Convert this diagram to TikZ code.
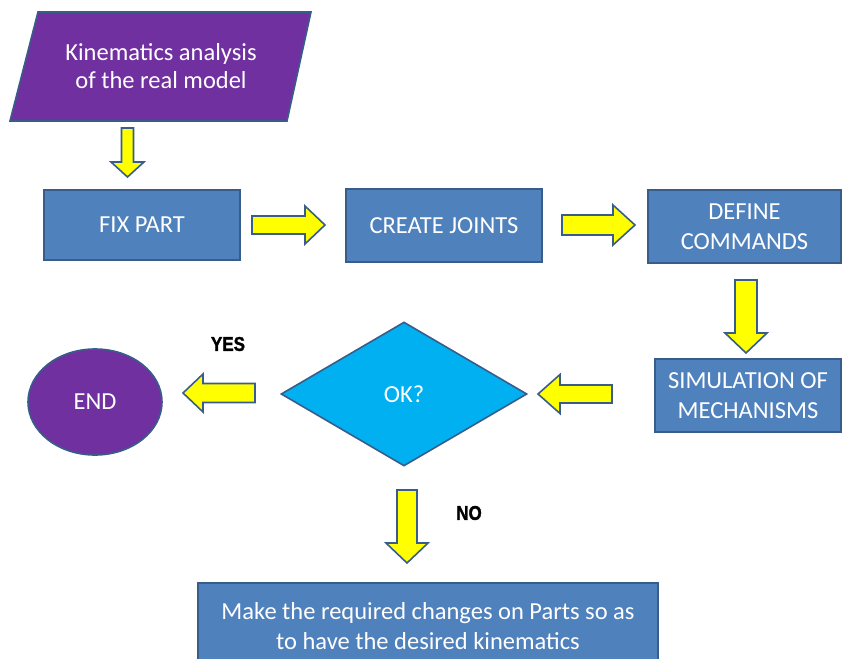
\documentclass[tikz,border=0pt]{standalone}
\usepackage{fontspec}
\setmainfont{Carlito}
\newfontfamily\labelfont{Liberation Sans}[BoldFeatures={FakeBold=1.5}]
\usetikzlibrary{shapes.geometric,calc}

\definecolor{boxblue}{HTML}{4F81BD}
\definecolor{edgeblue}{HTML}{385D8A}
\definecolor{startpurple}{HTML}{7030A0}
\definecolor{decisioncyan}{HTML}{00B0F0}
\definecolor{arrowyellow}{HTML}{FFFF00}

% Block arrow: x, y of the tail centre, direction, length, shaft half width, head half width, head length
\newcommand{\blockarrow}[7]{%
  \begin{scope}[shift={(#1,#2)},rotate=#3]
    \draw[yarrow] (0,-#5) -- ({#4-#7},-#5) -- ({#4-#7},-#6) -- (#4,0)
      -- ({#4-#7},#6) -- ({#4-#7},#5) -- (0,#5) -- cycle;
  \end{scope}}

\tikzset{
  yarrow/.style={fill=arrowyellow, draw=edgeblue, line width=1.6pt, line join=miter},
  stepbox/.style={rectangle, fill=boxblue, draw=edgeblue, line width=1.6pt,
    text=white, align=center, inner sep=0pt,
    font=\fontsize{24.5}{30}\selectfont},
  answer/.style={font=\labelfont\bfseries\fontsize{20}{22}\selectfont, text=black}
}

\begin{document}
\begin{tikzpicture}[x=1pt,y=-1pt]
  \useasboundingbox (0,0) rectangle (842,658);
  \fill[white] (0,0) rectangle (842,658);

  % start block (parallelogram)
  \draw[fill=startpurple, draw=edgeblue, line width=1.6pt]
    (38,12) -- (311,12) -- (287,121) -- (10,121) -- cycle;
  \node[text=white, align=center, font=\fontsize{24.5}{28}\selectfont] (kin) at (161,66)
    {Kinematics analysis\\of the real model};

  % process steps
  \node[stepbox, minimum width=196pt, minimum height=70pt] (fix) at (142,225) {FIX PART};
  \node[stepbox, minimum width=196pt, minimum height=73pt] (joints) at (444,225.5) {CREATE JOINTS};
  \node[stepbox, minimum width=193pt, minimum height=73pt] (cmds) at (744.5,226.5) {DEFINE\\COMMANDS};
  \node[stepbox, minimum width=186pt, minimum height=73pt] (sim) at (748,395.5) {SIMULATION OF\\MECHANISMS};

  % decision and end
  \node[diamond, fill=decisioncyan, draw=edgeblue, line width=1.6pt, inner sep=0pt,
        minimum width=246pt, minimum height=144pt, text=white,
        font=\fontsize{24.5}{28}\selectfont] (ok) at (404,394) {OK?};
  \node[ellipse, fill=startpurple, draw=edgeblue, line width=1.6pt, inner sep=0pt,
        minimum width=134pt, minimum height=106pt, text=white,
        font=\fontsize{24.5}{28}\selectfont] (end) at (95,402) {END};

  % correction step
  \node[stepbox, minimum width=460pt, minimum height=86pt] (changes) at (428,626)
    {Make the required changes on Parts so as\\to have the desired kinematics};

  % flow arrows
  \blockarrow{127.5}{128}{-90}{49}{6}{16.5}{15}
  \blockarrow{252}{225}{0}{73}{9}{19}{20}
  \blockarrow{562}{225}{0}{73}{10}{20}{22}
  \blockarrow{746}{280}{-90}{73}{11}{21}{20}
  \blockarrow{612}{394}{180}{74}{9}{19.5}{22}
  \blockarrow{255}{393}{180}{72}{9.5}{19}{20}
  \blockarrow{407}{490}{-90}{73}{10}{21}{20}

  % answers
  \node[answer] (yes) at (228,344) {\scalebox{0.85}[1]{YES}};
  \node[answer] (no) at (469,513) {\scalebox{0.85}[1]{NO}};
\end{tikzpicture}
\end{document}
